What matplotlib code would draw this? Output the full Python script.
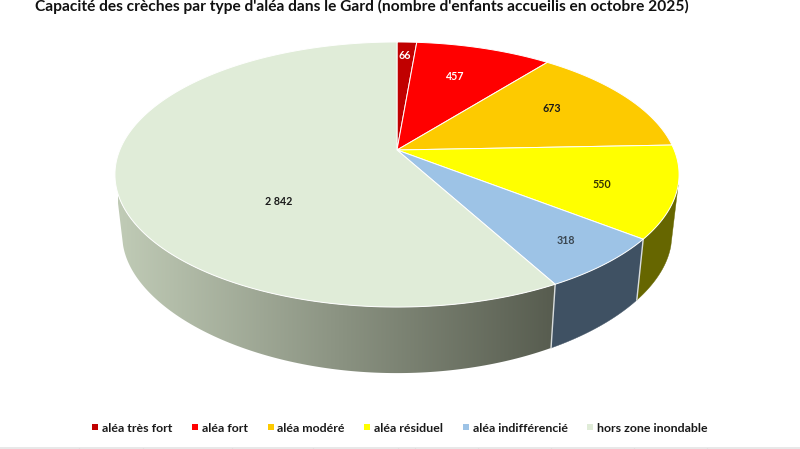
import numpy as np
import matplotlib
matplotlib.use("Agg")
import matplotlib.pyplot as plt
from matplotlib.colors import LinearSegmentedColormap
from matplotlib.lines import Line2D
from matplotlib.patches import Polygon

# Data
categories = ["aléa très fort", "aléa fort", "aléa modéré", "aléa résiduel",
              "aléa indifférencié", "hors zone inondable"]
capacities = [66, 457, 673, 550, 318, 2842]
value_labels = ["66", "457", "673", "550", "318", "2 842"]

# Styles
top_colors = ["#C00000", "#FF0000", "#FDCA00", "#FFFF00", "#9DC3E6", "#E0ECD8"]
side_colors = ["#730000", "#990000", "#997A00", "#666600", "#3F5163", None]
label_colors = ["white", "white", "#1a1a1a", "#333300", "#3a4650", "#1a1a1a"]
label_xy = [(404.5, 55.5), (455, 76), (552, 108), (602, 185), (566, 240), (279, 201.5)]
sheet_cell_edges = [79, 143, 232, 313, 398, 415, 478, 551, 634, 707]

plt.rcParams["font.family"] = ["Lato", "DejaVu Sans"]
plt.rcParams["font.weight"] = "bold"

fig = plt.figure(figsize=(8, 4.49), dpi=100, facecolor="white")
ax = fig.add_axes([0, 0, 1, 1])


def rim(theta, r=1.0, lower=False):
    """Perspective projection of a disc point; theta runs clockwise from the top."""
    u, v = r * np.sin(theta), r * np.cos(theta)
    if lower:
        x = 397 + 270.0 * u / (1 + 0.185 * v)
        y = 212 - 120.5 * v / (1 + 0.252 * v)
    else:
        x = 397 + 277.2 * u / (1 + 0.185 * v)
        y = 150 - 128.0 * v / (1 + 0.185 * v)
    return np.column_stack([x, y])


edges = np.concatenate([[0], np.cumsum(capacities)]) / np.sum(capacities) * 2 * np.pi
vis_start, vis_end = np.radians(105), np.radians(255)

# Visible wall of the disc
gradient_cmap = LinearSegmentedColormap.from_list("wall", ["#C0CBB6", "#565B4E"])
for i, (a, b) in enumerate(zip(edges[:-1], edges[1:])):
    a2, b2 = max(a, vis_start), min(b, vis_end)
    if b2 <= a2:
        continue
    t = np.linspace(a2, b2, 120)
    outline = np.vstack([rim(t), rim(t[::-1], lower=True)])
    if side_colors[i] is None:
        patch = Polygon(outline, closed=True, facecolor="none", edgecolor="none")
        ax.add_patch(patch)
        shade = ax.imshow(np.linspace(0, 1, 256)[None, :], cmap=gradient_cmap, aspect="auto",
                          extent=(118, 560, 380, 150), interpolation="bilinear", zorder=1)
        shade.set_clip_path(patch)
    else:
        ax.add_patch(Polygon(outline, closed=True, facecolor=side_colors[i],
                             edgecolor=side_colors[i], linewidth=0.3, zorder=1))
    if a >= vis_start and a <= vis_end:
        seam = np.vstack([rim(np.array([a])), rim(np.array([a]), lower=True)])
        ax.plot(seam[:, 0], seam[:, 1], color="#D9DDDD", lw=1.0, zorder=2)

# Top face
for i, (a, b) in enumerate(zip(edges[:-1], edges[1:])):
    t = np.linspace(a, b, 200)
    outline = np.vstack([rim(np.array([0.0]), r=0.0), rim(t)])
    ax.add_patch(Polygon(outline, closed=True, facecolor=top_colors[i], edgecolor="white",
                         linewidth=0.7, joinstyle="round", zorder=3))

for text, (x, y), color in zip(value_labels, label_xy, label_colors):
    ax.text(x, y, text, color=color, fontsize=7.7, ha="center", va="center", zorder=4)

ax.text(361.5, 6, "Capacité des crèches par type d'aléa dans le Gard (nombre d'enfants accueilis en octobre 2025)",
        fontsize=11.15, ha="center", va="center", color="#111111")

handles = [Line2D([], [], linestyle="none", marker="s", markersize=3.7, markeredgewidth=0, color=c, label=n)
           for c, n in zip(top_colors, categories)]
ax.legend(handles=handles, ncol=6, loc="center", bbox_to_anchor=(400, 428),
          bbox_transform=ax.transData, frameon=False, fontsize=8.9,
          handlelength=0.5, handletextpad=0.3, columnspacing=1.58, borderpad=0,
          labelcolor="#1a1a1a")

# Sheet grid running under the chart
ax.axhline(447.8, color="#E4E4E4", lw=1.2)
ax.vlines(sheet_cell_edges, 447.5, 449, color="#D8D8D8", lw=0.8)

ax.set_xlim(0, 800)
ax.set_ylim(449, 0)
ax.axis("off")
fig.savefig("out.png", dpi=100, facecolor="white")
